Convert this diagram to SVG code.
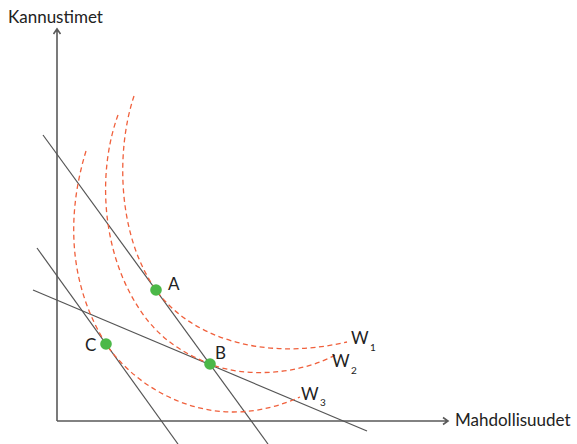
<svg xmlns="http://www.w3.org/2000/svg" width="577" height="444" viewBox="0 0 577 444">
<style>
.axis{stroke:#5a5a5a;stroke-width:1.6;fill:none}
.line{stroke:#555;stroke-width:1.2;fill:none}
.curve{stroke:#f0603c;stroke-width:1.3;fill:none;stroke-dasharray:5,3.5}
.dot{fill:#4cb848}
text{font-family:Lato,"Open Sans","Liberation Sans",sans-serif;fill:#222}
.lbl{font-size:17px}
.sub{font-size:10px}
</style>
<rect width="577" height="444" fill="#fff"/>
<g id="axes">
<path class="axis" d="M57,421 V29 M53.5,34 L57,29 L60.5,34"/>
<path class="axis" d="M57,421 H448 M443,417.5 L448,421 L443,424.5"/>
<text class="lbl" x="8" y="23">Kannustimet</text>
<text class="lbl" x="455" y="426">Mahdollisuudet</text>
</g>
<g id="connectors">
<line class="line" x1="43" y1="135" x2="268" y2="444"/>
<line class="line" x1="37" y1="248" x2="178" y2="444"/>
<line class="line" x1="33" y1="290" x2="367" y2="431"/>
</g>
<g id="curves">
<path id="W1" class="curve" d="M134,96 C116,150 117,235 156,290 C189,336 260,362 347,342"/>
<path id="W2" class="curve" d="M118,115 C98,170 100,250 140,310 C160,340 185,354 210,364 C245,378 300,375 337,354"/>
<path id="W3" class="curve" d="M86,151 C68,210 66,280 106,344 C135,386 185,412 233,412 C260,412 282,405 300,397"/>
</g>
<g id="A"><circle class="dot" cx="156" cy="290" r="5.8"/><text class="lbl" x="168" y="290">A</text></g>
<g id="B"><circle class="dot" cx="210" cy="364" r="5.8"/><text class="lbl" x="215" y="359">B</text></g>
<g id="C"><circle class="dot" cx="106" cy="344" r="5.8"/><text class="lbl" x="85" y="351">C</text></g>
<g id="labelW1"><text class="lbl" x="351" y="344">W</text><text class="sub" x="370" y="351">1</text></g>
<g id="labelW2"><text class="lbl" x="332" y="367">W</text><text class="sub" x="351" y="374">2</text></g>
<g id="labelW3"><text class="lbl" x="301" y="400">W</text><text class="sub" x="320" y="406">3</text></g>
</svg>
